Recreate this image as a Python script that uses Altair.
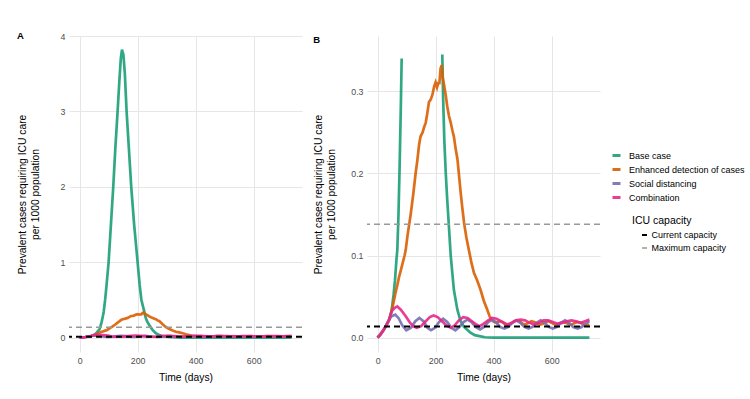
import altair as alt
import pandas as pd

series_names = ["Base case", "Enhanced detection of cases", "Social distancing", "Combination"]
series_colors = ["#1B9E77", "#D95F02", "#7570B3", "#E7298A"]

base_days = [0, 10, 20, 30, 40, 48, 55, 60, 65, 68, 72, 76, 80, 83, 88, 93, 100, 108, 116, 123, 131, 137,
             142, 146, 151, 156, 162, 170, 178, 188, 200, 207, 213, 223, 226, 230, 235, 240, 245, 252, 263,
             275, 286, 298, 309, 320, 335, 355, 370, 400, 450, 500, 550, 600, 650, 700, 730]
base_vals = [0, 0.004, 0.009, 0.015, 0.022, 0.032, 0.052, 0.07, 0.095, 0.107, 0.15, 0.21, 0.28, 0.34, 0.5,
             0.7, 1.0, 1.5, 2.0, 2.5, 3.0, 3.4, 3.7, 3.82, 3.75, 3.5, 3.0, 2.5, 2.0, 1.5, 1.0, 0.7, 0.5,
             0.345, 0.29, 0.24, 0.2, 0.168, 0.14, 0.1, 0.058, 0.034, 0.02, 0.013, 0.0097, 0.006, 0.003,
             0.0016, 0.0005, 0, 0, 0, 0, 0, 0, 0, 0]

enh_days = [0, 10, 20, 30, 40, 48, 55, 62, 68, 74, 80, 93, 97, 103, 114, 123, 131, 137, 143, 148, 155, 160,
            166, 172, 177, 183, 189, 195, 200, 205, 209, 213, 217, 221, 224, 229, 235, 240, 246, 252, 258,
            263, 269, 275, 280, 286, 292, 298, 306, 315, 323, 332, 343, 355, 366, 378, 386, 394, 402, 410,
            420, 430, 440, 450, 460, 470, 480, 490, 500, 510, 520, 530, 540, 550, 560, 570, 580, 590, 600,
            610, 620, 630, 640, 650, 660, 670, 680, 690, 700, 710, 720, 730]
enh_vals = [0, 0.004, 0.009, 0.015, 0.022, 0.032, 0.043, 0.055, 0.064, 0.074, 0.082, 0.1, 0.107, 0.124,
            0.15, 0.175, 0.2, 0.216, 0.235, 0.245, 0.25, 0.256, 0.262, 0.275, 0.287, 0.29, 0.296, 0.306,
            0.311, 0.305, 0.31, 0.31, 0.328, 0.332, 0.318, 0.308, 0.295, 0.282, 0.27, 0.262, 0.252, 0.245,
            0.23, 0.218, 0.2, 0.178, 0.158, 0.14, 0.122, 0.106, 0.092, 0.079, 0.07, 0.058, 0.045, 0.034,
            0.026, 0.021, 0.019, 0.018, 0.02, 0.019, 0.016, 0.015, 0.017, 0.02, 0.021, 0.02, 0.017, 0.016,
            0.018, 0.02, 0.019, 0.017, 0.016, 0.017, 0.019, 0.02, 0.018, 0.016, 0.016, 0.018, 0.019, 0.018,
            0.016, 0.016, 0.018, 0.019, 0.018, 0.016, 0.015, 0.016]

soc_days = [0, 10, 20, 30, 40, 48, 61, 72, 85, 99, 115, 130, 144, 158, 172, 184, 198, 212, 226, 240, 254,
            268, 282, 296, 310, 324, 338, 353, 367, 381, 394, 408, 422, 437, 450, 464, 478, 492, 506, 520,
            534, 548, 562, 576, 590, 604, 618, 632, 646, 660, 674, 689, 703, 717, 730]
soc_vals = [0, 0.004, 0.009, 0.015, 0.022, 0.026, 0.028, 0.024, 0.015, 0.009, 0.012, 0.02, 0.024, 0.02,
            0.012, 0.009, 0.012, 0.019, 0.023, 0.019, 0.012, 0.009, 0.013, 0.019, 0.022, 0.019, 0.013,
            0.01, 0.013, 0.019, 0.022, 0.019, 0.013, 0.011, 0.013, 0.018, 0.021, 0.018, 0.013, 0.011,
            0.013, 0.018, 0.021, 0.018, 0.013, 0.011, 0.013, 0.018, 0.021, 0.018, 0.013, 0.011, 0.013,
            0.017, 0.02]

comb_days = [0, 10, 20, 30, 40, 48, 58, 68, 80, 97, 110, 122, 135, 150, 166, 180, 193, 207, 222, 237, 252,
             266, 280, 295, 310, 325, 340, 352, 366, 381, 395, 410, 425, 447, 462, 478, 493, 508, 524, 540,
             556, 572, 588, 604, 620, 636, 652, 668, 684, 700, 715, 730]
comb_vals = [0, 0.004, 0.009, 0.015, 0.022, 0.032, 0.036, 0.038, 0.034, 0.026, 0.019, 0.014, 0.012, 0.014,
             0.02, 0.025, 0.027, 0.025, 0.02, 0.015, 0.012, 0.015, 0.021, 0.025, 0.024, 0.02, 0.016, 0.014,
             0.017, 0.021, 0.024, 0.023, 0.02, 0.016, 0.018, 0.021, 0.022, 0.021, 0.018, 0.016, 0.018,
             0.021, 0.021, 0.019, 0.017, 0.018, 0.02, 0.021, 0.02, 0.018, 0.02, 0.022]

cap_names = ["Current capacity", "Maximum capacity"]
cap_vals = [0.0135, 0.138]
cap_colors = ["#000000", "#999999"]

frames = []
for name, d, v in [(series_names[0], base_days, base_vals), (series_names[1], enh_days, enh_vals),
                   (series_names[2], soc_days, soc_vals), (series_names[3], comb_days, comb_vals)]:
    frames.append(pd.DataFrame({"day": d, "value": v, "series": name}))
df = pd.concat(frames, ignore_index=True)
df["seg"] = 0

# panel B: values above the y-limit are removed, which breaks the line
b_parts = []
for name, g in df.groupby("series", sort=False):
    g = g.sort_values("day").copy()
    keep = g["value"] <= 0.35
    g["seg"] = (~keep).cumsum()
    b_parts.append(g[keep])
df_b = pd.concat(b_parts, ignore_index=True)

cap_df = pd.DataFrame({"value": cap_vals, "name": cap_names})

FONT = "Liberation Sans"
YTITLE = ["Prevalent cases requiring ICU care", "per 1000 population"]


def panel(data, ydomain, yticks, fmt, label, tpad):
    x = alt.X("day:Q", title="Time (days)",
              scale=alt.Scale(domain=[-36.5, 766.5], nice=False, zero=False),
              axis=alt.Axis(values=[0, 200, 400, 600]))
    y = alt.Y("value:Q", title=YTITLE,
              scale=alt.Scale(domain=ydomain, nice=False, zero=False),
              axis=alt.Axis(values=yticks, format=fmt, titlePadding=tpad))
    lines = alt.Chart(data).mark_line(strokeWidth=2.7, clip=True, opacity=0.9).encode(
        x=x, y=y,
        color=alt.Color("series:N", scale=alt.Scale(domain=series_names, range=series_colors),
                        legend=alt.Legend(title=None, orient="none", legendX=542, legendY=114,
                                          symbolType="stroke", symbolStrokeWidth=3, symbolSize=64,
                                          labelFontSize=9, labelOffset=7, rowPadding=1)),
        detail="seg:N",
    )
    rules = alt.Chart(cap_df).mark_rule(strokeDash=[6, 4]).encode(
        y=alt.Y("value:Q", title=YTITLE),
        stroke=alt.Stroke("name:N", scale=alt.Scale(domain=cap_names, range=cap_colors),
                          legend=alt.Legend(title="ICU capacity", orient="none", legendX=563, legendY=180,
                                            symbolType="stroke", symbolStrokeWidth=2, symbolSize=25,
                                            symbolOffset=8, labelFontSize=9, labelOffset=2.5,
                                            titleFontSize=10.5, titleFontWeight="normal",
                                            titlePadding=4, rowPadding=3)),
        strokeWidth=alt.StrokeWidth("name:N", scale=alt.Scale(domain=cap_names, range=[2, 1.5]), legend=None),
    )
    return alt.layer(lines, rules).properties(
        width=233, height=316,
        title=alt.TitleParams(label, anchor="start", frame="bounds", fontSize=9.5, fontWeight="bold",
                              font=FONT, offset=-8, color="#000000"),
    )


pa = panel(df, [-0.19, 4.0], [0, 1, 2, 3, 4], "d", "A", 20)
pb = panel(df_b, [-0.0175, 0.3675], [0.0, 0.1, 0.2, 0.3], ".1f", "B", 14.4)

chart = alt.hconcat(pa, pb, spacing=10).resolve_scale(color="shared", stroke="shared").properties(
    padding={"left": 17, "top": 30, "right": 0, "bottom": 0}
).configure_view(stroke=None).configure_axis(
    domain=False, ticks=False, grid=True, gridColor="#e6e6e6", gridWidth=1,
    labelColor="#4d4d4d", labelFontSize=8.8, labelFont=FONT, labelPadding=4,
    titleFont=FONT, titleFontSize=10.3, titleFontWeight="normal", titleColor="#000000",
).configure_axisY(titleLineHeight=13).configure_axisX(titlePadding=8).configure_legend(
    labelFont=FONT, titleFont=FONT, labelColor="#000000", titleColor="#000000"
).configure_title(font=FONT)

chart.save("out.html", embed_options={"renderer": "svg", "actions": False})
